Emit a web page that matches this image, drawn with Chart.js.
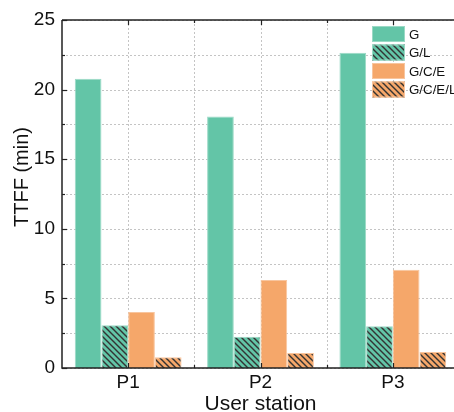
<!DOCTYPE html>
<html>
<head>
<meta charset="utf-8">
<script src="https://cdn.jsdelivr.net/npm/chart.js@4"></script>
<style>
html,body{margin:0;padding:0;overflow:hidden;background:#fff;}
#wrap{width:470px;height:412px;}
</style>
</head>
<body>
<div id="wrap"><canvas id="c" width="470" height="412"></canvas></div>
<script>
const categories = ['P1', 'P2', 'P3'];
const seriesNames = ['G', 'G/L', 'G/C/E', 'G/C/E/L'];
const gValues = [20.78, 18.06, 22.65];
const glValues = [3.08, 2.25, 3.0];
const gceValues = [4.03, 6.32, 7.06];
const gcelValues = [0.77, 1.08, 1.15];
const yTickLabels = [0, 5, 10, 15, 20, 25];
const yTitle = 'TTFF (min)';
const xTitle = 'User station';

const GREEN = '#63c5a7';
const ORANGE = '#f5a76a';
const FONT = "'Liberation Sans', Arial, sans-serif";

const canvas = document.getElementById('c');
const ctx = canvas.getContext('2d');

function hatch(base) {
  const c = document.createElement('canvas');
  c.width = 6; c.height = 6;
  const x = c.getContext('2d');
  x.fillStyle = base; x.fillRect(0, 0, 6, 6);
  x.strokeStyle = '#333'; x.lineWidth = 1.4;
  x.beginPath();
  x.moveTo(-1, -1); x.lineTo(7, 7);
  x.moveTo(-1, 5); x.lineTo(1, 7);
  x.moveTo(5, -1); x.lineTo(7, 1);
  x.stroke();
  return ctx.createPattern(c, 'repeat');
}

const fills = [GREEN, hatch(GREEN), ORANGE, hatch(ORANGE)];
const borders = ['#9ad9c5', '#9ad9c5', '#f8c59e', '#f8c59e'];
const seriesValues = [gValues, glValues, gceValues, gcelValues];

const framePlugin = {
  id: 'frame',
  beforeDatasetsDraw(chart) {
    const {ctx, chartArea: {top, bottom, left, right}, scales: {x, y}} = chart;
    ctx.save();
    ctx.strokeStyle = '#c4c4c4';
    ctx.lineWidth = 1;
    ctx.setLineDash([2, 2]);
    y.ticks.forEach(t => {
      const py = Math.round(y.getPixelForValue(t.value)) + 0.5;
      ctx.beginPath(); ctx.moveTo(left, py); ctx.lineTo(right, py); ctx.stroke();
    });
    const half = (x.getPixelForValue(1) - x.getPixelForValue(0)) / 2;
    categories.forEach((c, i) => {
      const cx = x.getPixelForValue(i);
      [cx, cx + half].forEach(px => {
        const p = Math.round(px) + 0.5;
        ctx.beginPath(); ctx.moveTo(p, top); ctx.lineTo(p, bottom); ctx.stroke();
      });
    });
    ctx.restore();
  },
  afterDatasetsDraw(chart) {
    const {ctx, chartArea: {top, bottom, left, right}, scales: {x, y}} = chart;
    ctx.save();
    ctx.strokeStyle = '#222';
    ctx.lineWidth = 1.5;
    ctx.beginPath();
    ctx.moveTo(left, top); ctx.lineTo(left, bottom); ctx.lineTo(right, bottom);
    ctx.moveTo(left, top); ctx.lineTo(right, top); ctx.lineTo(right, bottom);
    ctx.stroke();
    ctx.lineWidth = 1.2;
    y.ticks.forEach(t => {
      const py = Math.round(y.getPixelForValue(t.value)) + 0.5;
      const len = (t.value % 5 === 0) ? 5 : 3;
      ctx.beginPath(); ctx.moveTo(left, py); ctx.lineTo(left + len, py); ctx.stroke();
    });
    const half = (x.getPixelForValue(1) - x.getPixelForValue(0)) / 2;
    categories.forEach((c, i) => {
      const cx = x.getPixelForValue(i);
      [[cx, 5], [cx + half, 3]].forEach(([px, len]) => {
        const p = Math.round(px) + 0.5;
        ctx.beginPath(); ctx.moveTo(p, bottom); ctx.lineTo(p, bottom - len); ctx.stroke();
        ctx.beginPath(); ctx.moveTo(p, top); ctx.lineTo(p, top + len); ctx.stroke();
      });
    });
    // y axis title
    ctx.fillStyle = '#111';
    ctx.font = '20px ' + FONT;
    ctx.textAlign = 'center';
    ctx.textBaseline = 'alphabetic';
    ctx.translate(27.5, 177);
    ctx.rotate(-Math.PI / 2);
    ctx.fillText(yTitle, 0, 0);
    ctx.restore();
  },
  afterDraw(chart) {
    const {ctx} = chart;
    ctx.save();
    const bx = 372, by0 = 26, step = 18.5, bw = 33, bh = 16;
    ctx.font = '13.3px ' + FONT;
    ctx.textBaseline = 'middle';
    ctx.textAlign = 'left';
    chart.data.datasets.forEach((ds, i) => {
      const by = by0 + i * step;
      ctx.fillStyle = ds.backgroundColor;
      ctx.fillRect(bx, by, bw, bh);
      ctx.strokeStyle = ds.borderColor;
      ctx.lineWidth = 1;
      ctx.strokeRect(bx + 0.5, by + 0.5, bw - 1, bh - 1);
      ctx.fillStyle = '#111';
      ctx.fillText(ds.label, bx + bw + 4, by + bh / 2 + 1);
    });
    ctx.restore();
  }
};

new Chart(canvas, {
  type: 'bar',
  data: {
    labels: categories,
    datasets: seriesNames.map((n, i) => ({
      label: n,
      data: seriesValues[i],
      backgroundColor: fills[i],
      borderColor: borders[i],
      borderWidth: 1,
      categoryPercentage: 0.807,
      barPercentage: 1.0
    }))
  },
  options: {
    responsive: false,
    animation: false,
    devicePixelRatio: 1,
    layout: {padding: {left: 0, top: 20, right: 11, bottom: 0}},
    plugins: {legend: {display: false}, tooltip: {enabled: false}},
    scales: {
      x: {
        grid: {display: false, drawTicks: false},
        border: {display: false},
        ticks: {color: '#111', font: {family: FONT, size: 19}, padding: 3},
        title: {display: true, text: xTitle, color: '#111', font: {family: FONT, size: 21}, padding: {top: 0, bottom: -5}},
        afterFit(s) { s.height = 44; }
      },
      y: {
        min: 0, max: 25,
        grid: {display: false, drawTicks: false},
        border: {display: false},
        ticks: {
          stepSize: 2.5,
          color: '#111',
          font: {family: FONT, size: 19},
          padding: 7,
          callback: v => yTickLabels.includes(v) ? String(v) : ''
        },
        title: {display: false},
        afterFit(s) { s.width = 62; }
      }
    }
  },
  plugins: [framePlugin]
});
</script>
</body>
</html>
